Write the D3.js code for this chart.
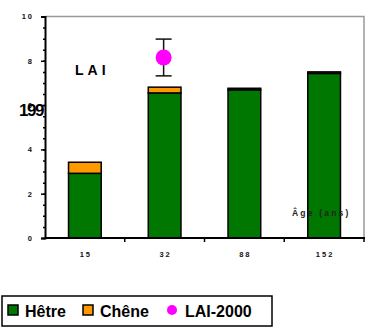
<!DOCTYPE html>
<html>
<head>
<meta charset="utf-8">
<script src="https://cdn.jsdelivr.net/npm/d3@7"></script>
<style>
body { margin: 0; background: #fff; }
svg { display: block; font-family: "Liberation Sans", Arial, sans-serif; }
</style>
</head>
<body>
<div id="chart"></div>
<script>
// data
const ages = ["15", "32", "88", "152"];
const hetre = [2.92, 6.55, 6.69, 7.43];
const chene = [0.5, 0.26, 0.07, 0.07];
const lai2000 = [null, 8.15, null, null];
const laiErr = [null, 0.83, null, null];
const yTicks = [0, 2, 4, 6, 8, 10];

window.onload = init;

function init()
{
    const width = 370, height = 328;
    const svg = d3.select('#chart').append('svg').attr('width', width).attr('height', height);

    const x = d3.scaleBand().domain(ages).range([45, 364]);
    const y = d3.scaleLinear().domain([0, 10]).range([238, 16.5]);
    const bw = x.bandwidth() * 0.41;

    // frame top/right in grey
    svg.append('path')
        .attr('d', `M${x.range()[0]},${y(10)}H${x.range()[1]}V${y(0)}`)
        .attr('fill', 'none').attr('stroke', '#999').attr('stroke-width', 1.5);

    // stacked bars
    const g = svg.append('g');
    ages.forEach((a, i) => {
        const bx = x(a) + (x.bandwidth() - bw) / 2;
        g.append('rect').attr('x', bx).attr('width', bw)
            .attr('y', y(hetre[i])).attr('height', y(0) - y(hetre[i]))
            .attr('fill', '#007700').attr('stroke', '#000').attr('stroke-width', 1.5);
        g.append('rect').attr('x', bx).attr('width', bw)
            .attr('y', y(hetre[i] + chene[i])).attr('height', y(hetre[i]) - y(hetre[i] + chene[i]))
            .attr('fill', '#ff9900').attr('stroke', '#000').attr('stroke-width', 1.5);
    });

    // LAI-2000 point with error bar
    ages.forEach((a, i) => {
        if (lai2000[i] == null) return;
        const cx = x(a) + x.bandwidth() / 2 - 1;
        const lo = y(lai2000[i] - laiErr[i]), hi = y(lai2000[i] + laiErr[i]);
        g.append('line').attr('x1', cx).attr('x2', cx).attr('y1', lo).attr('y2', hi)
            .attr('stroke', '#111').attr('stroke-width', 1.5);
        [lo, hi].forEach(v => g.append('line').attr('x1', cx - 8).attr('x2', cx + 8)
            .attr('y1', v).attr('y2', v).attr('stroke', '#111').attr('stroke-width', 1.5));
        g.append('circle').attr('cx', cx).attr('cy', y(lai2000[i])).attr('r', 8).attr('fill', '#ff00ff');
    });

    // y axis with minor ticks
    const yAxis = svg.append('g').attr('transform', 'translate(45,0)');
    yAxis.append('g').call(d3.axisLeft(y).tickValues(d3.range(0, 10.01, 0.5)).tickSize(2).tickFormat(''))
        .call(s => s.select('.domain').remove());
    yAxis.append('g').call(d3.axisLeft(y).tickValues(yTicks).tickSize(4).tickPadding(7).tickFormat(d => d))
        .call(s => s.select('.domain').attr('stroke-width', 2));
    yAxis.selectAll('line').attr('stroke-width', 1.5);
    yAxis.selectAll('text').attr('font-size', 7.5).attr('font-weight', 'bold').attr('letter-spacing', 2)
        .attr('fill', '#111').attr('font-family', '"Liberation Sans", Arial, sans-serif');

    // x axis: ticks at category boundaries
    const xAxis = svg.append('g').attr('transform', `translate(0,${y(0)})`);
    xAxis.append('path').attr('d', `M45,0H365`).attr('stroke', '#000').attr('stroke-width', 2);
    ages.forEach(a => {
        xAxis.append('line').attr('x1', x(a) + x.bandwidth()).attr('x2', x(a) + x.bandwidth())
            .attr('y1', 0).attr('y2', 4).attr('stroke', '#000').attr('stroke-width', 1.5);
    });
    xAxis.selectAll('text.lab').data(ages).enter().append('text')
        .attr('x', d => x(d) + x.bandwidth() / 2 + 1).attr('y', 19)
        .attr('text-anchor', 'middle').attr('font-size', 7.5).attr('font-weight', 'bold')
        .attr('fill', '#111').attr('letter-spacing', 2).text(d => d);

    // titles
    svg.append('text').attr('x', 75).attr('y', 75).attr('font-size', 14).attr('font-weight', 'bold')
        .attr('letter-spacing', 4).text('LAI');
    svg.append('text').attr('x', 19).attr('y', 116).attr('font-size', 17).attr('font-weight', 'bold')
        .attr('letter-spacing', -1.5).text('199');
    svg.append('text').attr('x', 292).attr('y', 216).attr('font-size', 8.5).attr('font-weight', 'bold')
        .attr('letter-spacing', 2.2).attr('fill', '#222').text('Âge (ans)');

    // legend
    const leg = svg.append('g');
    leg.append('rect').attr('x', 2).attr('y', 296).attr('width', 270).attr('height', 30)
        .attr('fill', '#fff').attr('stroke', '#000').attr('stroke-width', 1.5);
    leg.append('rect').attr('x', 8).attr('y', 305).attr('width', 10).attr('height', 10)
        .attr('fill', '#007700').attr('stroke', '#000').attr('stroke-width', 1.5);
    leg.append('text').attr('x', 25).attr('y', 317).attr('font-size', 16).attr('font-weight', 'bold').text('Hêtre');
    leg.append('rect').attr('x', 83).attr('y', 305).attr('width', 10).attr('height', 10)
        .attr('fill', '#ff9900').attr('stroke', '#000').attr('stroke-width', 1.5);
    leg.append('text').attr('x', 100).attr('y', 317).attr('font-size', 16).attr('font-weight', 'bold').text('Chêne');
    leg.append('circle').attr('cx', 172).attr('cy', 310).attr('r', 5).attr('fill', '#ff00ff');
    leg.append('text').attr('x', 185).attr('y', 317).attr('font-size', 16).attr('font-weight', 'bold').text('LAI-2000');
}
</script>
</body>
</html>
